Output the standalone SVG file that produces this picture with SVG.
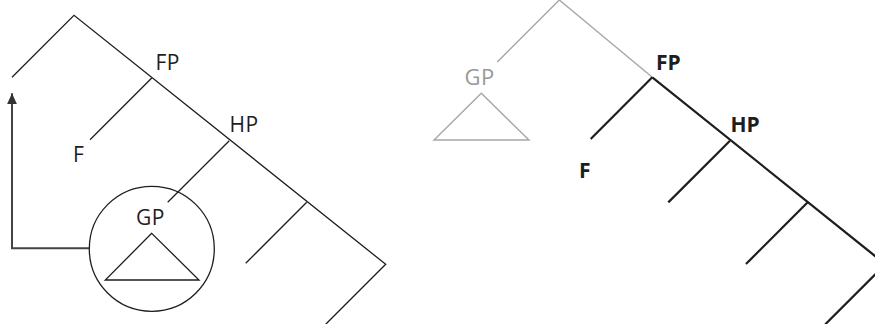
<svg xmlns="http://www.w3.org/2000/svg" width="875" height="324" viewBox="0 0 875 324">
<defs>
<style>
.t{stroke:#1e1e1e;stroke-width:1.3;fill:none}
.b{stroke:#1e1e1e;stroke-width:2.2;fill:none}
.g{stroke:#a6a6a6;stroke-width:1.4;fill:none}
.lbl{font-family:"Open Sans","Noto Sans",sans-serif;font-size:21px;fill:#1e1e1e;letter-spacing:0.5px}
.bl{font-family:"Open Sans","Noto Sans",sans-serif;font-size:21px;font-weight:700;fill:#1e1e1e}
.gl{font-family:"Open Sans","Noto Sans",sans-serif;font-size:22px;fill:#999;letter-spacing:0.5px}
</style>
<marker id="ah" markerWidth="11" markerHeight="10" refX="11" refY="5" orient="auto" markerUnits="userSpaceOnUse" viewBox="0 0 11 10">
<path d="M0,0 L11,5 L0,10 Z" fill="#333"/>
</marker>
</defs>
<rect width="875" height="324" fill="#fff"/>
<g id="left-tree">
<g id="connectors-left">
<polyline class="t" points="12,77.3 74,15.3 385.7,264.3 325.7,324.3"/>
<line class="t" x1="151.7" y1="78" x2="90" y2="139.7"/>
<line class="t" x1="229.3" y1="140.7" x2="167.7" y2="202.3"/>
<line class="t" x1="306.7" y1="202.3" x2="245.7" y2="263.3"/>
<polyline points="89.3,248.3 12,248.3 12,93.3" fill="none" stroke="#444" stroke-width="2" marker-end="url(#ah)"/>
</g>
<g id="node-FP-left"><text class="lbl" x="155.5" y="70">FP</text></g>
<g id="node-HP-left"><text class="lbl" x="229.5" y="132.3">HP</text></g>
<g id="node-F-left"><text class="lbl" x="73" y="162.3">F</text></g>
<g id="node-GP-left">
<circle class="t" cx="151.8" cy="248.8" r="62.5"/>
<text class="lbl" x="136" y="225.3">GP</text>
<polygon class="t" points="151.7,233.3 105.3,280 199,280"/>
</g>
</g>
<g id="right-tree">
<g id="connectors-right">
<polyline class="g" points="497.3,62 559.3,0 652.3,77.3"/>
<polyline class="b" points="652.3,77.3 885.3,264.3 825.3,324.3"/>
<line class="b" x1="652.3" y1="77.3" x2="590.7" y2="139"/>
<line class="b" x1="730" y1="140.7" x2="668.3" y2="202.4"/>
<line class="b" x1="807.7" y1="202.3" x2="746" y2="264"/>
</g>
<g id="node-GP-right">
<text class="gl" x="464.5" y="85.3">GP</text>
<polygon class="g" points="481.3,93.3 434,140 529,140"/>
</g>
<g id="node-FP-right"><text class="bl" x="656" y="70">FP</text></g>
<g id="node-HP-right"><text class="bl" x="730.5" y="132.3">HP</text></g>
<g id="node-F-right"><text class="bl" x="579" y="177.7">F</text></g>
</g>
</svg>
